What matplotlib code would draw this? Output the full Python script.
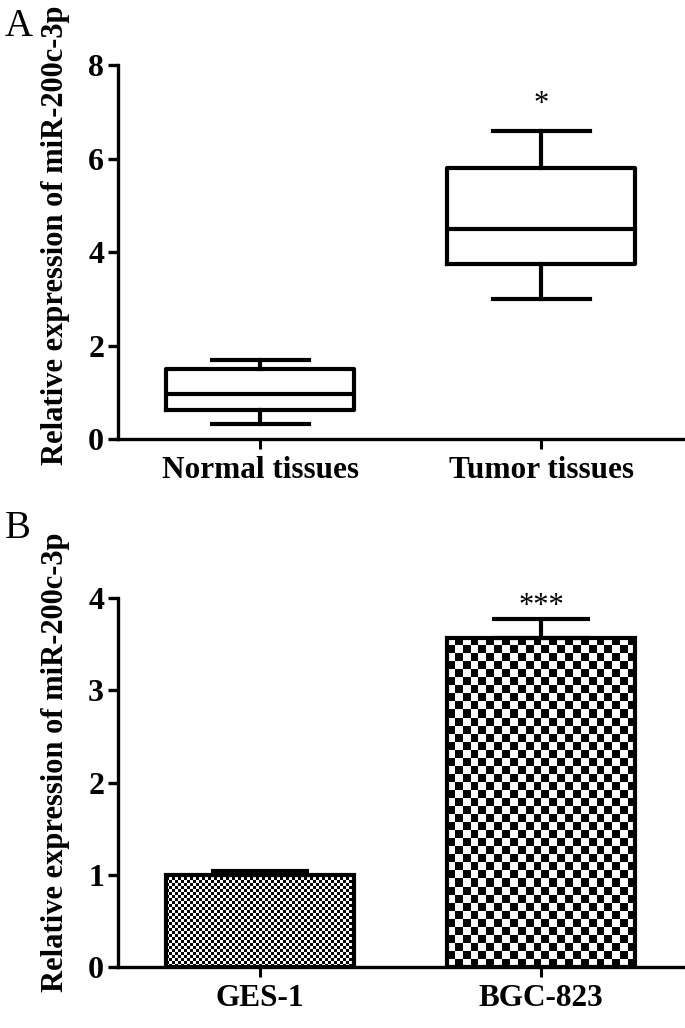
import numpy as np
import matplotlib
matplotlib.use("Agg")
import matplotlib.pyplot as plt

plt.rcParams['font.family'] = ['Liberation Serif', 'DejaVu Serif']

# panel A: box plot summary (whisker low, Q1, median, Q3, whisker high)
groups_a = ["Normal tissues", "Tumor tissues"]
whislo_a = [0.33, 3.0]
q1_a = [0.62, 3.75]
med_a = [0.97, 4.5]
q3_a = [1.5, 5.8]
whishi_a = [1.7, 6.6]
yticks_a = [0, 2, 4, 6, 8]

# panel B: bar chart, mean + SD (upper only)
groups_b = ["GES-1", "BGC-823"]
mean_b = [1.0, 3.57]
sd_b = [0.04, 0.20]
yticks_b = [0, 1, 2, 3, 4]

ylab = "Relative expression of miR-200c-3p"
LW = 3.0

fig = plt.figure(figsize=(6.85, 10.28), dpi=100)
axA = fig.add_axes([0.1723, 0.573, 0.825, 0.3635])
axB = fig.add_axes([0.1723, 0.0593, 0.825, 0.359])


def style(ax, ticks, labels):
    for s in ["top", "right"]:
        ax.spines[s].set_visible(False)
    for s in ["left", "bottom"]:
        ax.spines[s].set_linewidth(2.4)
    ax.set_xlim(-0.505, 1.505)
    ax.set_ylim(ticks[0], ticks[-1])
    ax.set_yticks(ticks)
    ax.set_xticks([0, 1])
    ax.set_xticklabels(labels, fontsize=22.5, fontweight="bold")
    ax.tick_params(axis="y", length=7, width=2.4, pad=3, labelsize=23)
    ax.tick_params(axis="x", length=7, width=2.2, pad=5)
    for t in ax.get_yticklabels():
        t.set_fontweight("bold")
    ax.set_ylabel(ylab, fontsize=22, fontweight="bold")


# ---- A
stats = []
for i in range(2):
    stats.append(dict(med=med_a[i], q1=q1_a[i], q3=q3_a[i],
                      whislo=whislo_a[i], whishi=whishi_a[i], fliers=[]))
axA.bxp(stats, positions=[0, 1], widths=0.67, capwidths=0.345, showfliers=False,
        boxprops=dict(linewidth=LW, color="black"),
        medianprops=dict(linewidth=LW, color="black"),
        whiskerprops=dict(linewidth=LW, color="black"),
        capprops=dict(linewidth=LW, color="black"))
style(axA, yticks_a, groups_a)
axA.yaxis.set_label_coords(-0.085, 0.545)
axA.text(1, whishi_a[1] + 0.25, "*", ha="center", va="bottom", fontsize=22)

# ---- B
style(axB, yticks_b, groups_b)
bars = axB.bar([0, 1], mean_b, width=0.67, facecolor="none", edgecolor="black",
               linewidth=LW, zorder=3)
axB.errorbar([0, 1], mean_b, yerr=[[0, 0], sd_b], fmt="none", ecolor="black",
             elinewidth=LW, capsize=35, capthick=LW, zorder=4)

# checkerboard fill, square size in pixels
square_px = [3.0, 8.0]
for p, sq in zip(bars.patches, square_px):
    bb = p.get_window_extent()
    nx = max(1, int(round(bb.width / sq)))
    ny = max(1, int(round(bb.height / sq)))
    img = np.add.outer(np.arange(ny), np.arange(nx)) % 2
    x0 = p.get_x()
    im = axB.imshow(img, extent=[x0, x0 + p.get_width(), 0, p.get_height()],
                    cmap="gray_r", interpolation="nearest", aspect="auto",
                    origin="lower", zorder=2)
    im.set_clip_path(p)
axB.set_xlim(-0.505, 1.505)
axB.set_ylim(0, 4)
axB.yaxis.set_label_coords(-0.085, 0.556)
axB.text(1, mean_b[1] + sd_b[1] - 0.02, "***", ha="center", va="bottom", fontsize=22)

fig.text(0.007, 0.992, "A", fontsize=28, va="top", ha="left")
fig.text(0.007, 0.504, "B", fontsize=28, va="top", ha="left")

fig.savefig("out.png", dpi=100)
